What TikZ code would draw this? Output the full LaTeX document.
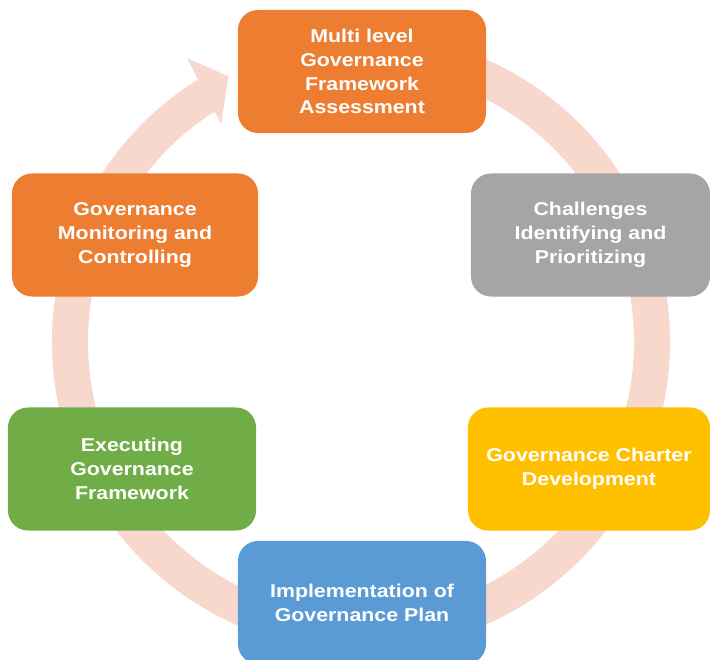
\documentclass[tikz,border=0pt]{standalone}
\usepackage{fontspec}
\setmainfont{Liberation Sans}[FakeStretch=1.15]

\definecolor{ringpink}{RGB}{248,216,205}
\definecolor{boxorange}{RGB}{237,125,49}
\definecolor{boxgrey}{RGB}{165,165,165}
\definecolor{boxyellow}{RGB}{255,192,0}
\definecolor{boxblue}{RGB}{91,155,213}
\definecolor{boxgreen}{RGB}{112,173,71}

\tikzset{stagebox/.style={rectangle, rounded corners=0.5cm, minimum width=6.2cm,
		minimum height=3.075cm, inner sep=0pt, align=center, text=white,
		font=\fontsize{13.2}{17}\selectfont\bfseries}}

\begin{document}
\begin{tikzpicture}[x=0.025cm, y=0.025cm]
\clip (0,0) rectangle (710,659);
\coordinate (hub) at (361,317);

\draw [ringpink, line width=0.9cm] 
		([shift={(75:291)}]hub) arc[start angle=75, end angle=-239, radius=291];
\fill [ringpink] 
		([shift={(121.5:333)}]hub) -- ([shift={(116.5:297)}]hub) -- ([shift={(122.7:259)}]hub) -- cycle;

\node [stagebox, fill=boxorange] (assess) at (362,587.5) 
		{Multi level\\Governance\\Framework\\Assessment};
\node [stagebox, fill=boxgrey, minimum width=5.975cm] (challenge) at (590.5,424) 
		{Challenges\\Identifying and\\Prioritizing};
\node [stagebox, fill=boxyellow, minimum width=6.05cm] (charter) at (589,190) 
		{Governance Charter\\Development};
\node [stagebox, fill=boxblue] (implement) at (362,56.5) 
		{Implementation of\\Governance Plan};
\node [stagebox, fill=boxgreen] (execute) at (132,190) 
		{Executing\\Governance\\Framework};
\node [stagebox, fill=boxorange, minimum width=6.15cm] (monitor) at (135,424) 
		{Governance\\Monitoring and\\Controlling};

\end{tikzpicture}
\end{document}
